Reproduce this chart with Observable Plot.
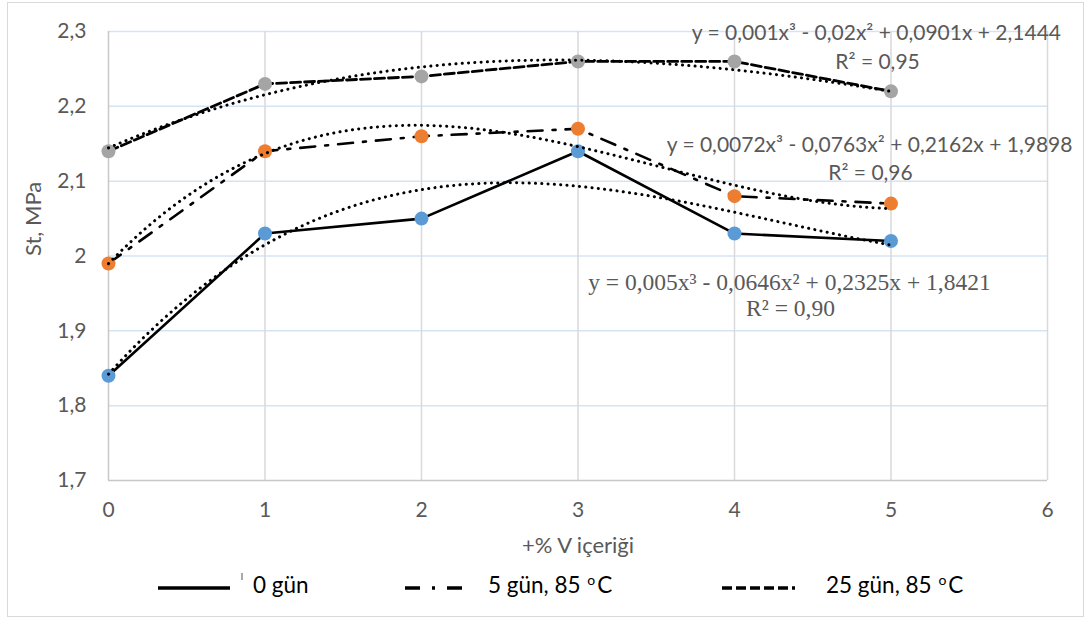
<!DOCTYPE html>
<html><head><meta charset="utf-8">
<script src="https://cdn.jsdelivr.net/npm/d3@7"></script>
<script src="https://cdn.jsdelivr.net/npm/@observablehq/plot@0.6"></script>
<style>
body{margin:0;background:#fff;width:1087px;height:621px;overflow:hidden;position:relative;}
#wrap{position:absolute;left:7px;top:2px;width:1077px;height:615px;border:1.5px solid #d9d9d9;box-sizing:border-box;}
#chart{position:absolute;left:0;top:0;}
#legend{position:absolute;left:0;top:565px;width:1087px;height:45px;font-family:Lato,"Open Sans",sans-serif;font-size:22.5px;color:#000;}
#legend .lab{position:absolute;top:6px;white-space:nowrap;}
#legend sup{font-size:14px;vertical-align:8px;line-height:0;margin-left:1px;margin-right:2px;}
</style></head><body>
<div id="wrap"></div>
<div id="chart"></div>
<div id="legend"></div>
<script>
const vContent = [0, 1, 2, 3, 4, 5];
const day0  = [1.84, 2.03, 2.05, 2.14, 2.03, 2.02];
const day5  = [1.99, 2.14, 2.16, 2.17, 2.08, 2.07];
const day25 = [2.14, 2.23, 2.24, 2.26, 2.26, 2.22];
const seriesNames = ["0 gün", "5 gün, 85 ", "25 gün, 85 "];
const seriesColors = ["#5B9BD5", "#ED7D31", "#A5A5A5"];
// trendline coefficients (c0 + c1 x + c2 x^2 + c3 x^3) as printed on the chart
const trend0  = [1.8421, 0.2325, -0.0646, 0.005];
const trend5  = [1.9898, 0.2162, -0.0763, 0.0072];
const trend25 = [2.1444, 0.0901, -0.02, 0.001];
const eqLabels = [
  "y = 0,005x³ - 0,0646x² + 0,2325x + 1,8421",
  "y = 0,0072x³ - 0,0763x² + 0,2162x + 1,9898",
  "y = 0,001x³ - 0,02x² + 0,0901x + 2,1444"
];
const r2Labels = ["R² = 0,90", "R² = 0,96", "R² = 0,95"];
const yTicks = [1.7, 1.8, 1.9, 2.0, 2.1, 2.2, 2.3];
const xTicks = [0, 1, 2, 3, 4, 5, 6];
const xTitle = "+% V içeriği";
const yTitle = "St, MPa";

const pts = ys => vContent.map((x, i) => ({x, y: ys[i]}));
const xs = d3.range(0, 5.0001, 0.05);
const curve = c => xs.map(x => ({x, y: c[0] + c[1]*x + c[2]*x*x + c[3]*x*x*x}));

const sans = 'Lato, "Open Sans", sans-serif';
const serif = '"Liberation Serif", "DejaVu Serif", serif';
const dotStyle = {stroke: "#000", strokeWidth: 3, strokeDasharray: "0.1,6.2", strokeLinecap: "round"};
const fmt = d => String(+d.toFixed(1)).replace(".", ",");

const chart = Plot.plot({
  width: 1087, height: 565,
  marginLeft: 108, marginRight: 40, marginTop: 31, marginBottom: 85,
  x: {domain: [0, 6]},
  y: {domain: [1.7, 2.3]},
  style: {fontFamily: sans, fontSize: "21px", color: "#595959", background: "transparent"},
  marks: [
    Plot.ruleY(yTicks.slice(1), {stroke: "#D6E4F2", strokeWidth: 1.5}),
    Plot.ruleX(xTicks.slice(1), {stroke: "#D9D9D9", strokeWidth: 1.5}),
    Plot.ruleX([0], {stroke: "#C8C8C8", strokeWidth: 1.5}),
    Plot.ruleY([1.7], {stroke: "#C8C8C8", strokeWidth: 1.5}),
    Plot.axisX({ticks: xTicks, tickSize: 0, tickPadding: 22, tickFormat: d => String(d), label: null, fill: "#595959", fontSize: 21}),
    Plot.axisY({ticks: yTicks, tickSize: 0, tickPadding: 22, tickFormat: fmt, label: null, fill: "#595959", fontSize: 21}),
    Plot.text([xTitle], {frameAnchor: "bottom", dy: 72, text: d => d, fill: "#595959", fontSize: 22}),
    Plot.text([yTitle], {frameAnchor: "left", dx: -75, rotate: -90, text: d => d, fill: "#595959", fontSize: 22}),
    Plot.line(pts(day0), {x: "x", y: "y", stroke: "#000", strokeWidth: 2.6}),
    Plot.line(pts(day5), {x: "x", y: "y", stroke: "#000", strokeWidth: 2.6, strokeDasharray: "15,10,3,10"}),
    Plot.line(pts(day25), {x: "x", y: "y", stroke: "#000", strokeWidth: 2.8, strokeDasharray: "10,4"}),
    Plot.dot(pts(day0), {x: "x", y: "y", r: 7, fill: seriesColors[0]}),
    Plot.dot(pts(day5), {x: "x", y: "y", r: 7, fill: seriesColors[1]}),
    Plot.dot(pts(day25), {x: "x", y: "y", r: 7, fill: seriesColors[2]}),
    Plot.line(curve(trend0), {x: "x", y: "y", ...dotStyle}),
    Plot.line(curve(trend5), {x: "x", y: "y", ...dotStyle}),
    Plot.line(curve(trend25), {x: "x", y: "y", ...dotStyle}),
    Plot.text([eqLabels[2]], {x: 4.907, y: 2.297, text: d => d, fill: "#595959", fontSize: 21, fontFamily: sans}),
    Plot.text([r2Labels[2]], {x: 4.914, y: 2.2586, text: d => d, fill: "#595959", fontSize: 21, fontFamily: sans}),
    Plot.text([eqLabels[1]], {x: 4.863, y: 2.1477, text: d => d, fill: "#595959", fontSize: 21, fontFamily: sans}),
    Plot.text([r2Labels[1]], {x: 4.869, y: 2.1102, text: d => d, fill: "#595959", fontSize: 21, fontFamily: sans}),
    Plot.text([eqLabels[0]], {x: 4.351, y: 1.9646, text: d => d, fill: "#595959", fontSize: 23.5, fontFamily: serif}),
    Plot.text([r2Labels[0]], {x: 4.358, y: 1.9298, text: d => d, fill: "#595959", fontSize: 23.5, fontFamily: serif})
  ]
});
document.getElementById("chart").appendChild(chart);

// legend below the plot
const legendItems = [
  {x1: 158, x2: 230, tx: 253, dash: null},
  {x1: 405, x2: 465, tx: 488, dash: "15,12,3,12"},
  {x1: 722, x2: 795, tx: 826, dash: "10,4"}
];
const lg = d3.select("#legend");
const lsvg = lg.append("svg").attr("width", 1087).attr("height", 45).style("position", "absolute").style("left", "0px").style("top", "0px");
legendItems.forEach((it, i) => {
  lsvg.append("line").attr("x1", it.x1).attr("x2", it.x2).attr("y1", 23).attr("y2", 23)
    .attr("stroke", "#000").attr("stroke-width", 3.4)
    .attr("stroke-dasharray", it.dash);
  const lab = lg.append("span").attr("class", "lab").style("left", it.tx + "px").text(seriesNames[i]);
  if (i > 0) { lab.append("sup").text("o"); lab.append("span").text("C"); }
});
// small stray tick next to the first legend entry, as in the original
lsvg.append("line").attr("x1", 242).attr("x2", 242).attr("y1", 8).attr("y2", 15).attr("stroke", "#555").attr("stroke-width", 1);
</script>
</body></html>
